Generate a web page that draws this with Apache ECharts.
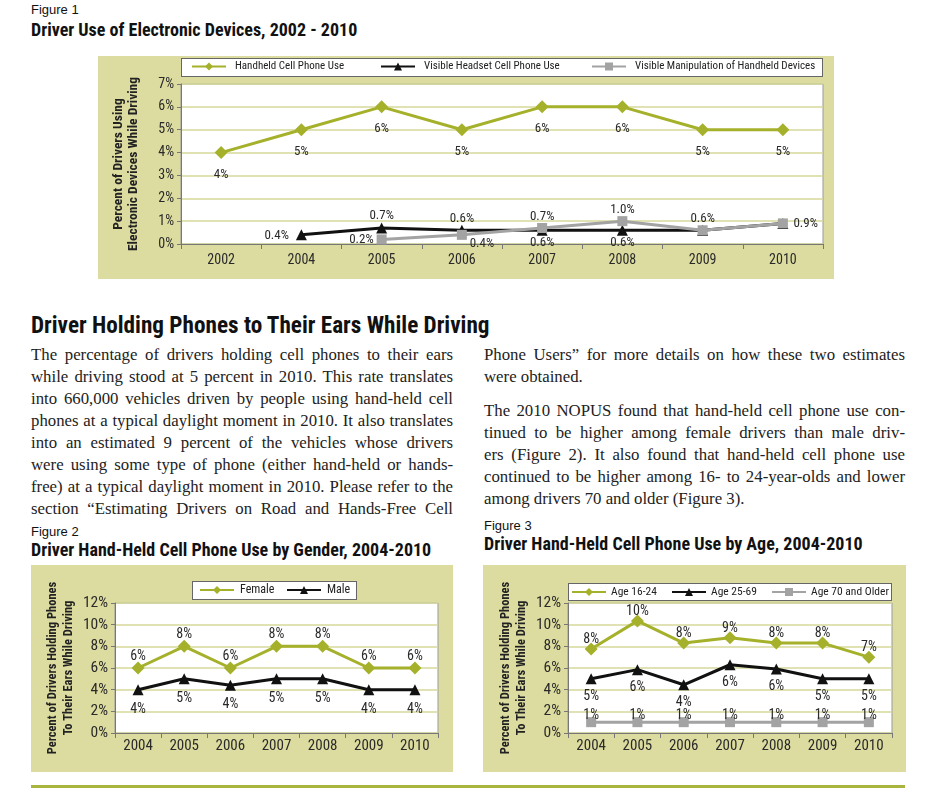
<!DOCTYPE html>
<html><head><meta charset="utf-8">
<script src="https://cdn.jsdelivr.net/npm/echarts@6/dist/echarts.min.js"></script>
<style>
body{margin:0;background:#fff;width:930px;height:797px;position:relative;overflow:hidden;}
.panel{position:absolute;background:#dcdca0;}
.lbox{position:absolute;background:#fff;border:1px solid #666;box-sizing:border-box;}
.fig{position:absolute;font-family:'Liberation Sans',Arial,sans-serif;font-size:13px;color:#111;line-height:16px;}
.ttl{position:absolute;font-family:'Roboto Condensed','Open Sans Condensed',sans-serif;font-weight:bold;font-size:18px;color:#111;line-height:20px;white-space:nowrap;}
.para{position:absolute;font-family:'Liberation Serif',serif;font-size:16.8px;color:#222;}
.para div{position:absolute;left:0;width:100%;white-space:nowrap;text-align:justify;text-align-last:justify;height:22px;line-height:22px;}
.para div.last{text-align-last:left;}
#chart{position:absolute;left:0;top:0;width:930px;height:797px;}
</style></head>
<body>
<div class="fig" style="left:31px;top:2px;">Figure 1</div>
<div class="ttl" style="left:31px;top:20px;">Driver Use of Electronic Devices, 2002 - 2010</div>
<div class="panel" style="left:98px;top:56px;width:736px;height:223px;"></div>
<div class="lbox" style="left:181px;top:58px;width:642px;height:19px;"></div>

<div class="ttl" style="left:31px;top:311px;font-size:23.2px;line-height:28px;">Driver Holding Phones to Their Ears While Driving</div>

<div class="para" style="left:31px;top:344px;width:422px;">
<div style="top:0px">The percentage of drivers holding cell phones to their ears</div>
<div style="top:22px">while driving stood at 5 percent in 2010. This rate translates</div>
<div style="top:44px">into 660,000 vehicles driven by people using hand-held cell</div>
<div style="top:66px">phones at a typical daylight moment in 2010. It also translates</div>
<div style="top:88px">into an estimated 9 percent of the vehicles whose drivers</div>
<div style="top:110px">were using some type of phone (either hand-held or hands-</div>
<div style="top:132px">free) at a typical daylight moment in 2010. Please refer to the</div>
<div style="top:154px">section “Estimating Drivers on Road and Hands-Free Cell</div>
</div>
<div class="para" style="left:484px;top:344px;width:421px;">
<div style="top:0px">Phone Users” for more details on how these two estimates</div>
<div class="last" style="top:22px">were obtained.</div>
<div style="top:56px">The 2010 NOPUS found that hand-held cell phone use con-</div>
<div style="top:78px">tinued to be higher among female drivers than male driv-</div>
<div style="top:100px">ers (Figure 2). It also found that hand-held cell phone use</div>
<div style="top:122px">continued to be higher among 16- to 24-year-olds and lower</div>
<div class="last" style="top:144px">among drivers 70 and older (Figure 3).</div>
</div>

<div class="fig" style="left:31px;top:524px;">Figure 2</div>
<div class="ttl" style="left:31px;top:540px;">Driver Hand-Held Cell Phone Use by Gender, 2004-2010</div>
<div class="panel" style="left:31px;top:565px;width:422px;height:207px;"></div>
<div class="lbox" style="left:192px;top:581px;width:165px;height:19px;"></div>

<div class="fig" style="left:484px;top:518px;">Figure 3</div>
<div class="ttl" style="left:484px;top:534px;">Driver Hand-Held Cell Phone Use by Age, 2004-2010</div>
<div class="panel" style="left:483px;top:565px;width:423px;height:207px;"></div>
<div class="lbox" style="left:568px;top:583px;width:324px;height:18px;"></div>

<div style="position:absolute;left:31px;top:785px;width:874px;height:3px;background:#a8b43c;"></div>

<div id="chart"></div>
<script>
// ---------- data ----------
const fig1Years = ['2002','2004','2005','2006','2007','2008','2009','2010'];
const fig1Handheld = [4, 5, 6, 5, 6, 6, 5, 5];
const fig1Headset = [null, 0.4, 0.7, 0.6, 0.6, 0.6, 0.6, 0.9];
const fig1Manip = [null, null, 0.2, 0.4, 0.7, 1.0, 0.6, 0.9];

const fig2Years = ['2004','2005','2006','2007','2008','2009','2010'];
const fig2Female = [6, 8, 6, 8, 8, 6, 6];
const fig2Male = [4, 5, 4.4, 5, 5, 4, 4];

const fig3Years = ['2004','2005','2006','2007','2008','2009','2010'];
const fig3Age1624 = [7.75, 10.35, 8.3, 8.8, 8.3, 8.3, 7.0];
const fig3Age2569 = [5.0, 5.85, 4.45, 6.3, 5.9, 5.0, 5.0];
const fig3Age70 = [1, 1, 1, 1, 1, 1, 1];

const fig1Y = {min: 0, max: 7, interval: 1};
const fig23Y = {min: 0, max: 12, interval: 2};

// ---------- styling ----------
const NARROW = "'Roboto Condensed','Open Sans Condensed',sans-serif";
const GREEN = '#a5b12b', BLACK = '#111111', GRAY = '#a3a3a3';
const TXT = '#2a2a2a';

const chart = echarts.init(document.getElementById('chart'));

function xAxisCfg(idx, data, fs, margin) {
  return {
    type: 'category', gridIndex: idx, data: data, boundaryGap: true,
    axisLine: {lineStyle: {color: '#777', width: 1}},
    axisTick: {show: true, length: 5, lineStyle: {color: '#777'}},
    axisLabel: {fontFamily: NARROW, fontSize: fs, color: TXT, margin: margin},
    splitLine: {show: false}
  };
}
function yAxisCfg(idx, rng, name, gap, nfs, nlh, fs) {
  return {
    type: 'value', gridIndex: idx, min: rng.min, max: rng.max, interval: rng.interval,
    axisLine: {show: true, lineStyle: {color: '#777', width: 1}},
    axisTick: {show: true, length: 4, lineStyle: {color: '#777'}},
    axisLabel: {formatter: '{value}%', fontFamily: NARROW, fontSize: fs, color: TXT, margin: 7},
    splitLine: {show: true, lineStyle: {color: '#d6d89a', width: 1.5}},
    name: name, nameLocation: 'middle', nameGap: gap,
    nameTextStyle: {fontFamily: NARROW, fontWeight: 'bold', fontSize: nfs, lineHeight: nlh, color: '#222'}
  };
}
const lbl = (extra) => Object.assign({show: true, fontFamily: NARROW, fontSize: 13, color: TXT}, extra);
const pct0 = p => Math.round(p.value) + '%';
const pct1 = p => Number(p.value).toFixed(1) + '%';

// per-point label placement for figure 1 small series
const headsetLbl = [null,
  {position: 'left', distance: 7, offset: [0, 1]},
  {position: 'top', distance: 0},
  {position: 'top', distance: 0},
  {position: 'bottom', distance: 0},
  {position: 'bottom', distance: 0},
  {position: 'top', distance: 0},
  {position: 'right', distance: 5}];
const manipLbl = [null, null,
  {position: 'left', distance: 3},
  {position: 'bottom', distance: 0, offset: [20, -3]},
  {position: 'top', distance: 0},
  {position: 'top', distance: 0},
  {show: false},
  {show: false}];

function lineSeries(name, xi, data, color, symbol, size, labelCfg, z) {
  return {
    type: 'line', name: name, xAxisIndex: xi, yAxisIndex: xi, data: data,
    symbol: symbol, symbolSize: size, showAllSymbol: true,
    lineStyle: {color: color, width: 3}, itemStyle: {color: color},
    label: labelCfg, z: z, animation: false, emphasis: {disabled: true}
  };
}

const legendBase = (names, left, top, fs, pad) => ({
  data: names, left: left, top: top, padding: 0, itemWidth: 34, itemHeight: 10, itemGap: 14,
  textStyle: {fontFamily: NARROW, fontSize: fs, color: '#222', padding: [0, 0, 0, pad]}, selectedMode: false
});

const option = {
  animation: false,
  grid: [
    {left: 181, top: 84, width: 642, height: 160, show: true, backgroundColor: '#fff', borderColor: '#999', borderWidth: 1},
    {left: 115, top: 603, width: 323, height: 130, show: true, backgroundColor: '#fff', borderColor: '#999', borderWidth: 1},
    {left: 568, top: 603, width: 324, height: 130, show: true, backgroundColor: '#fff', borderColor: '#999', borderWidth: 1}
  ],
  xAxis: [
    xAxisCfg(0, fig1Years, 14, 9),
    xAxisCfg(1, fig2Years, 15, 6),
    xAxisCfg(2, fig3Years, 15, 6)
  ],
  yAxis: [
    yAxisCfg(0, fig1Y, 'Percent of Drivers Using\nElectronic Devices While Driving', 40, 13.5, 15, 14),
    yAxisCfg(1, fig23Y, 'Percent of Drivers Holding Phones\nTo Their Ears While Driving', 38, 12.5, 16, 15.5),
    yAxisCfg(2, fig23Y, 'Percent of Drivers Holding Phones\nTo Their Ears While Driving', 38, 12.5, 16, 15.5)
  ],
  legend: [
    legendBase(['Handheld Cell Phone Use'], 191, 61, 11, 4),
    legendBase(['Visible Headset Cell Phone Use'], 380, 61, 11, 4),
    legendBase(['Visible Manipulation of Handheld Devices'], 591, 61, 11, 4),
    legendBase(['Female'], 199, 584, 12, 1),
    legendBase(['Male'], 286, 584, 12, 1),
    legendBase(['Age 16-24'], 571, 586, 11.5, 0),
    legendBase(['Age 25-69'], 671, 586, 11.5, 0),
    legendBase(['Age 70 and Older'], 771, 586, 11.5, 0)
  ],
  series: [
    lineSeries('Handheld Cell Phone Use', 0, fig1Handheld, GREEN, 'diamond', 13,
      lbl({position: 'bottom', distance: 9, formatter: pct0}), 3),
    lineSeries('Visible Headset Cell Phone Use', 0,
      fig1Headset.map((v, i) => ({value: v, label: headsetLbl[i] || {}})), BLACK, 'triangle', 11,
      lbl({formatter: pct1}), 4),
    lineSeries('Visible Manipulation of Handheld Devices', 0,
      fig1Manip.map((v, i) => ({value: v, label: manipLbl[i] || {}})), GRAY, 'rect', 10,
      lbl({formatter: pct1}), 5),

    lineSeries('Female', 1, fig2Female, GREEN, 'diamond', 13,
      lbl({position: 'top', distance: -2, fontSize: 14, formatter: pct0}), 3),
    lineSeries('Male', 1, fig2Male, BLACK, 'triangle', 11,
      lbl({position: 'bottom', distance: 7, fontSize: 14, formatter: pct0}), 4),

    lineSeries('Age 16-24', 2, fig3Age1624, GREEN, 'diamond', 13,
      lbl({position: 'top', distance: -4, fontSize: 14, formatter: pct0}), 3),
    lineSeries('Age 25-69', 2, fig3Age2569, BLACK, 'triangle', 11,
      lbl({position: 'bottom', distance: 5, fontSize: 14, formatter: pct0}), 4),
    lineSeries('Age 70 and Older', 2, fig3Age70, GRAY, 'rect', 10,
      lbl({position: 'top', distance: -5, fontSize: 14, formatter: pct0}), 5)
  ]
};
chart.setOption(option);
</script>
</body></html>
